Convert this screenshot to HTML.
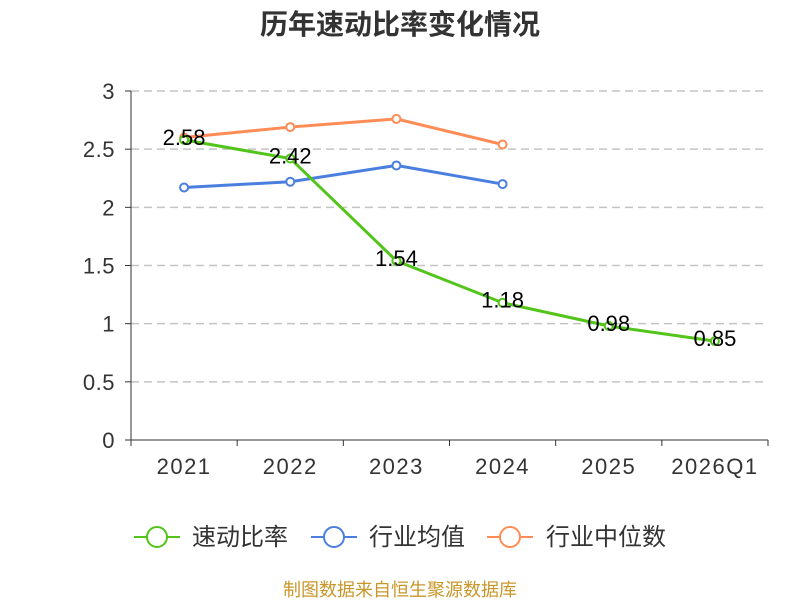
<!DOCTYPE html>
<html><head><meta charset="utf-8"><style>
body{margin:0;background:#fff;}
svg{font-family:"Liberation Sans","Noto Sans CJK SC",sans-serif;}
</style></head><body>
<svg id="c" width="800" height="600" xmlns="http://www.w3.org/2000/svg">
<text x="400" y="34" text-anchor="middle" font-size="28" font-weight="bold" fill="#333">历年速动比率变化情况</text>
<g id="grid"></g><g id="axes"></g><g id="series"></g>
<g id="legend">
<g><line x1="134" y1="537" x2="180" y2="537" stroke="#52c41a" stroke-width="2"/><circle cx="157" cy="537" r="10" fill="#fff" stroke="#52c41a" stroke-width="2"/><text x="192" y="545" font-size="24" fill="#333">速动比率</text></g>
<g><line x1="311" y1="537" x2="357" y2="537" stroke="#4a7fe0" stroke-width="2"/><circle cx="334" cy="537" r="10" fill="#fff" stroke="#4a7fe0" stroke-width="2"/><text x="369" y="545" font-size="24" fill="#333">行业均值</text></g>
<g><line x1="487" y1="537" x2="533" y2="537" stroke="#ff8c55" stroke-width="2"/><circle cx="510" cy="537" r="10" fill="#fff" stroke="#ff8c55" stroke-width="2"/><text x="546" y="545" font-size="24" fill="#333">行业中位数</text></g>
</g>
<text x="400" y="596" text-anchor="middle" font-size="18" fill="#c8962a">制图数据来自恒生聚源数据库</text>
</svg>
<script>
const categories=["2021","2022","2023","2024","2025","2026Q1"];
const quickRatio=[2.58,2.42,1.54,1.18,0.98,0.85];
const industryAvg=[2.17,2.22,2.36,2.20];
const industryMedian=[2.60,2.69,2.76,2.54];
const yTicks=[0,0.5,1,1.5,2,2.5,3];
const NS="http://www.w3.org/2000/svg";
const x0=131,x1=768,yb=440,yt=91,yMax=3;
const bw=(x1-x0)/categories.length;
const xs=i=>x0+bw*(i+0.5);
const ys=v=>yb-(v/yMax)*(yb-yt);
function mk(t,a,p){const e=document.createElementNS(NS,t);for(const k in a)e.setAttribute(k,a[k]);p.appendChild(e);return e;}
const grid=document.getElementById('grid'),axes=document.getElementById('axes'),ser=document.getElementById('series');
yTicks.forEach(v=>{
 if(v>0){const l=mk('line',{x1:x0,x2:x1,y1:ys(v),y2:ys(v),stroke:'#c4c4c4','stroke-dasharray':'8,5','stroke-width':1.5},grid);
 
 }
 mk('line',{x1:x0-6,x2:x0,y1:ys(v),y2:ys(v),stroke:'#333'},axes);
 const t=mk('text',{x:x0-16,y:ys(v)+8,'text-anchor':'end','font-size':22,fill:'#333','letter-spacing':'0.5'},axes);t.textContent=v;
 
 
});
mk('line',{x1:x0,x2:x0,y1:yt,y2:yb,stroke:'#333'},axes);
mk('line',{x1:x0,x2:x1,y1:yb,y2:yb,stroke:'#333'},axes);
for(let i=0;i<=categories.length;i++)mk('line',{x1:x0+bw*i,x2:x0+bw*i,y1:yb,y2:yb+6,stroke:'#333'},axes);
categories.forEach((c,i)=>{const t=mk('text',{x:xs(i),y:474,'text-anchor':'middle','font-size':22,fill:'#333','letter-spacing':'1.5'},axes);t.textContent=c;
 
 });
function line(data,color,name,labels){
 const g=mk('g',{},ser);
 
 
 mk('polyline',{points:data.map((v,i)=>xs(i)+','+ys(v)).join(' '),fill:'none',stroke:color,'stroke-width':3},g);
 data.forEach((v,i)=>{const c=mk('circle',{cx:xs(i),cy:ys(v),r:4,fill:'#fff',stroke:color,'stroke-width':2},g);
  
  
  if(labels){const t=mk('text',{x:xs(i),y:ys(v)+5,'text-anchor':'middle','font-size':22,fill:'#000'},g);t.textContent=v.toFixed(2);
   
   }});
}
line(industryAvg,'#4a7fe0','industry-avg-line',false);
line(industryMedian,'#ff8c55','industry-median-line',false);
line(quickRatio,'#52c41a','quick-ratio-line',true);
</script>
</body></html>
